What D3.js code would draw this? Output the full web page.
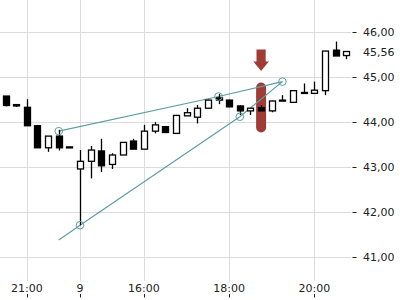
<!DOCTYPE html>
<html>
<head>
<meta charset="utf-8">
<script src="https://cdn.jsdelivr.net/npm/d3@7"></script>
<style>
  body { margin: 0; background: #fff; }
  text { font-family: "DejaVu Sans", sans-serif; font-size: 11px; fill: #222; }
</style>
</head>
<body>
<svg id="chart" width="400" height="300"></svg>
<script>
// candle values (open, high, low, close), one per 15 min bar
const opens  = [44.57, 44.38, 44.32, 43.91, 43.42, 43.68, 43.44, 42.95, 43.12, 43.35, 43.05, 43.26, 43.57, 43.39, 43.79, 43.89, 43.74, 44.13, 44.10, 44.30, 44.53, 44.48, 44.35, 44.24, 44.31, 44.24, 44.48, 44.43, 44.65, 44.63, 44.69, 45.59, 45.47];
const highs  = [44.57, 44.39, 44.50, 43.93, 43.68, 43.82, 43.44, 43.37, 43.46, 43.62, 43.30, 43.55, 43.62, 43.93, 43.99, 43.90, 44.15, 44.30, 44.37, 44.49, 44.62, 44.49, 44.36, 44.30, 44.37, 44.47, 44.59, 44.69, 44.85, 44.89, 45.57, 45.78, 45.56];
const lows   = [44.34, 44.33, 43.91, 43.42, 43.33, 43.36, 43.43, 41.70, 42.74, 42.88, 42.95, 43.26, 43.39, 43.39, 43.74, 43.75, 43.74, 44.13, 43.96, 44.29, 44.39, 44.32, 44.15, 44.15, 44.24, 44.21, 44.46, 44.43, 44.64, 44.62, 44.59, 45.46, 45.39];
const closes = [44.36, 44.35, 43.91, 43.42, 43.68, 43.42, 43.43, 43.12, 43.37, 43.02, 43.26, 43.54, 43.39, 43.79, 43.93, 43.76, 44.14, 44.20, 44.30, 44.48, 44.48, 44.33, 44.24, 44.30, 44.24, 44.46, 44.46, 44.69, 44.64, 44.70, 45.57, 45.46, 45.56];

// x axis labels (bar index -> label)
const xTickIdx = [2, 7, 13, 21, 29];
const xTickLabels = ['21:00', '9', '16:00', '18:00', '20:00'];

// y axis
const yTicks = [41, 42, 43, 44, 45, 46];
const lastPrice = 45.56;

// trend lines: [bar index, price]
const upperLine = [[5, 43.79], [20, 44.56], [26, 44.89]];
const lowerLine = [[5, 41.37], [7, 41.70], [22, 44.11], [26, 44.89]];
const anchors = [[5, 43.79], [7, 41.70], [20, 44.56], [22, 44.11], [26, 44.89]];

// highlight marker
const markIdx = 24;
const markRange = [43.76, 44.87];

const svg = d3.select('#chart');

const x = d3.scalePoint()
    .domain(d3.range(opens.length))
    .range([5.5, 346.3]);

const y = d3.scaleLinear()
    .domain([41, 46])
    .range([256.7, 31.7]);

const grid = svg.append('g').attr('stroke', '#dcdcdc').attr('stroke-width', 1);
grid.selectAll('line.h')
    .data(yTicks)
    .enter().append('line')
    .attr('x1', 0).attr('x2', 351)
    .attr('y1', d => Math.round(y(d)) + 0.5).attr('y2', d => Math.round(y(d)) + 0.5);
grid.selectAll('line.v')
    .data(xTickIdx)
    .enter().append('line')
    .attr('x1', d => Math.round(x(d)) + 0.5).attr('x2', d => Math.round(x(d)) + 0.5)
    .attr('y1', 0).attr('y2', 281);

// y axis on the right
const yAxis = svg.append('g');
yAxis.selectAll('line')
    .data(yTicks)
    .enter().append('line')
    .attr('x1', 352.5).attr('x2', 356.5)
    .attr('y1', d => Math.round(y(d)) + 0.5).attr('y2', d => Math.round(y(d)) + 0.5)
    .attr('stroke', '#222');
yAxis.selectAll('text')
    .data(yTicks)
    .enter().append('text')
    .attr('x', 363)
    .attr('y', d => y(d) + 4)
    .text(d => d.toFixed(2).replace('.', ','));
svg.append('text')
    .attr('x', 363)
    .attr('y', y(lastPrice) + 4)
    .text(lastPrice.toFixed(2).replace('.', ','));

// x axis labels + ticks below them
const xAxis = svg.append('g');
xAxis.selectAll('text')
    .data(xTickIdx)
    .enter().append('text')
    .attr('x', d => x(d))
    .attr('y', 291.5)
    .attr('text-anchor', 'middle')
    .text((d, i) => xTickLabels[i]);
xAxis.selectAll('line')
    .data(xTickIdx)
    .enter().append('line')
    .attr('x1', d => Math.round(x(d)) + 0.5).attr('x2', d => Math.round(x(d)) + 0.5)
    .attr('y1', 294).attr('y2', 297.5)
    .attr('stroke', '#222');

// red highlight: arrow + pill
const red = '#a03c36';
const mx = x(markIdx);
svg.append('rect')
    .attr('x', mx - 5).attr('width', 10)
    .attr('y', y(markRange[1])).attr('height', y(markRange[0]) - y(markRange[1]))
    .attr('rx', 5).attr('ry', 5)
    .attr('fill', red);
const pillTop = y(markRange[1]);
svg.append('path')
    .attr('d', `M${mx - 4.6},${pillTop - 33} H${mx + 4.6} V${pillTop - 21} H${mx + 7.8} L${mx},${pillTop - 11.5} L${mx - 7.8},${pillTop - 21} H${mx - 4.6} Z`)
    .attr('fill', red);

// trend lines
const teal = '#5f9ea3';
const line = d3.line().x(d => x(d[0])).y(d => y(d[1]));
[upperLine, lowerLine].forEach(pts => {
    svg.append('path')
        .attr('d', line(pts))
        .attr('fill', 'none')
        .attr('stroke', teal)
        .attr('stroke-width', 1.2);
});

// candles
const bars = d3.range(opens.length);
const cg = svg.append('g');
cg.selectAll('line')
    .data(bars)
    .enter().append('line')
    .attr('x1', i => Math.round(x(i)) + 0.5).attr('x2', i => Math.round(x(i)) + 0.5)
    .attr('y1', i => y(highs[i])).attr('y2', i => y(lows[i]))
    .attr('stroke', '#000').attr('stroke-width', 1.3);
cg.selectAll('rect')
    .data(bars)
    .enter().append('rect')
    .attr('x', i => Math.round(x(i)) - 2.5)
    .attr('width', 6)
    .attr('y', i => y(Math.max(opens[i], closes[i])))
    .attr('height', i => Math.max(1, Math.abs(y(opens[i]) - y(closes[i]))))
    .attr('fill', i => closes[i] >= opens[i] ? '#fff' : '#000')
    .attr('stroke', '#000').attr('stroke-width', 1.3);

// anchor circles
svg.selectAll('circle')
    .data(anchors)
    .enter().append('circle')
    .attr('cx', d => x(d[0])).attr('cy', d => y(d[1]))
    .attr('r', 3.8)
    .attr('fill', 'none')
    .attr('stroke', teal)
    .attr('stroke-width', 1);
</script>
</body>
</html>
